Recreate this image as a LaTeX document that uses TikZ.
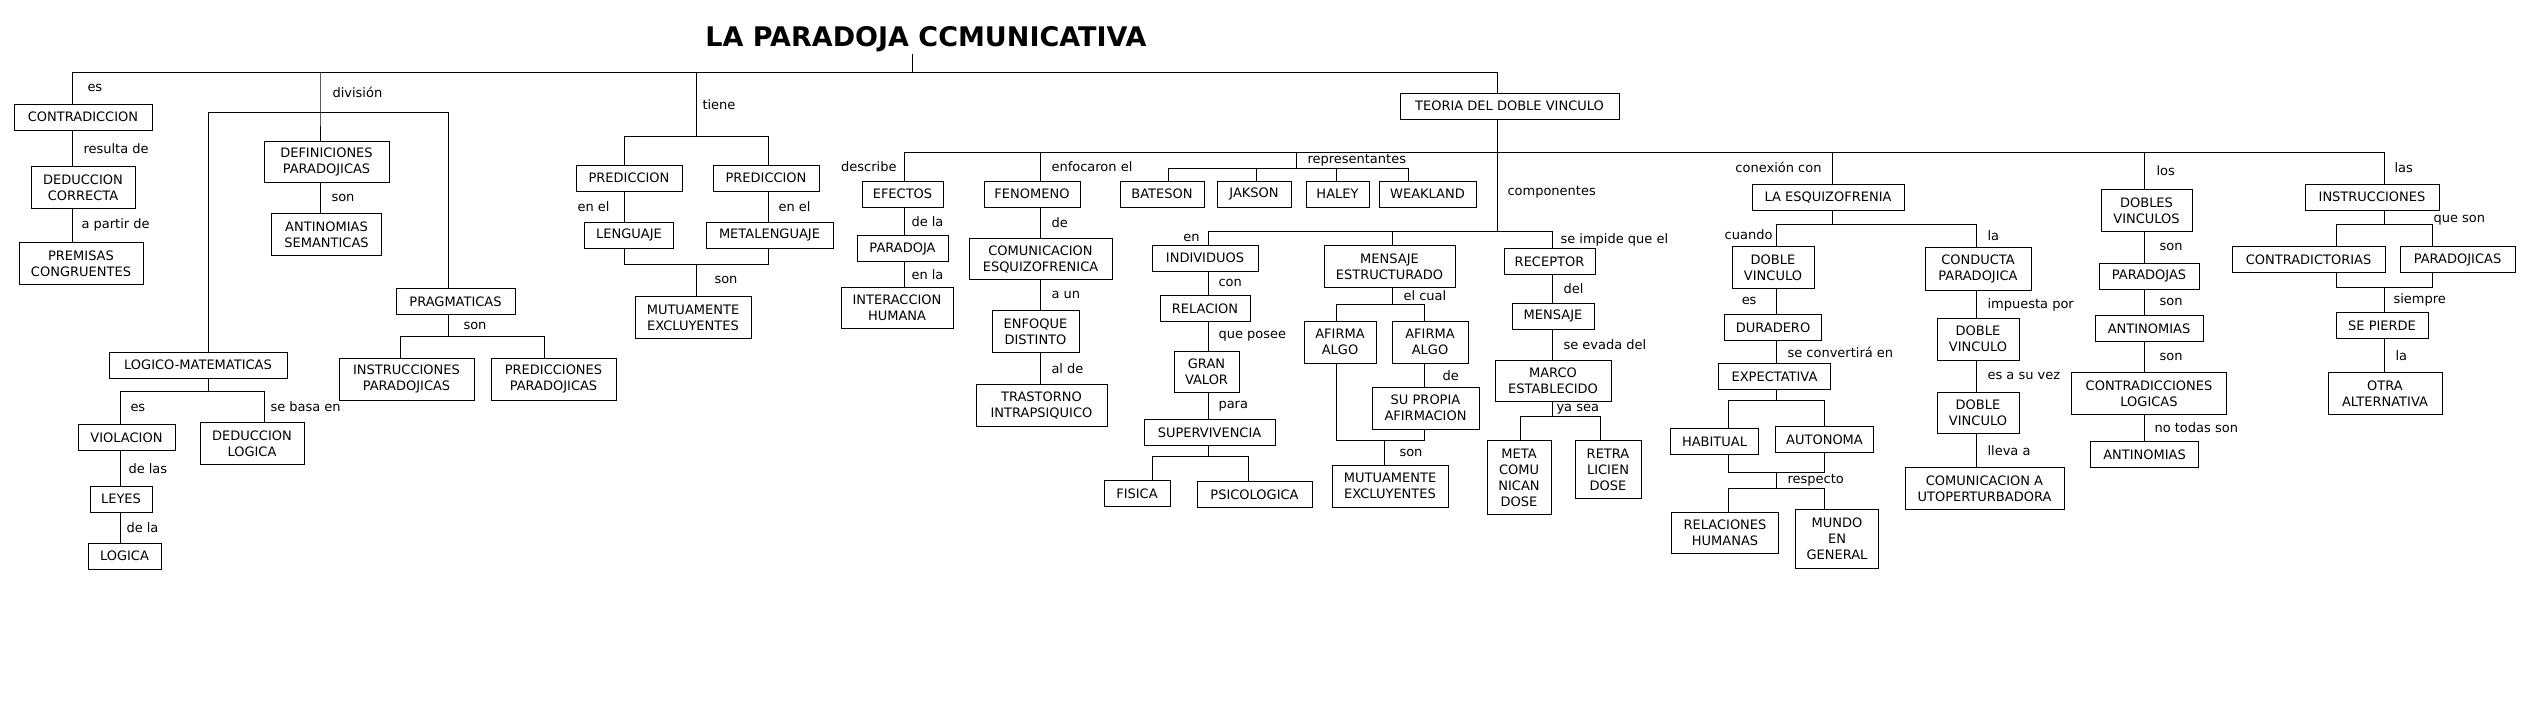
\documentclass[tikz,border=0pt]{standalone}
\usepackage{fontspec}
\setmainfont{DejaVu Sans}
\usepackage{tikz}
\usetikzlibrary{positioning}

\begin{document}
\begin{tikzpicture}[x=1pt,
            y=-1.11pt,
            line width=1pt,
            box/.style={draw, align=center, font=\fontsize{13}{16}\selectfont,
                        inner xsep=3pt, inner ysep=2pt, minimum height=26pt},
            box2/.style={box, minimum height=41.6pt},
            lbl/.style={font=\fontsize{13}{16}\selectfont, inner sep=0pt},
            titulo/.style={font=\fontsize{27}{30}\selectfont\bfseries, inner sep=1pt}]

        \useasboundingbox (0,0) rectangle (2526,647.75);

        \node[titulo, anchor=base] (title) at (926,42) {LA PARADOJA CCMUNICATIVA};

        \node[box, minimum width=138pt] (contr) at (83,105.5) {CONTRADICCION};
        \node[box2, minimum width=104pt, below=35.5pt of contr] (dedcor) {DEDUCCION\\CORRECTA};
        \node[box2, minimum width=124pt, below=33.3pt of dedcor, xshift=-2pt] (prem) {PREMISAS\\CONGRUENTES};

        \node[box2, minimum width=125pt] (defpar) at (326.5,146) {DEFINICIONES\\PARADOJICAS};
        \node[box2, minimum width=110pt, below=30pt of defpar] (antsem) {ANTINOMIAS\\SEMANTICAS};
        \node[box, minimum width=119pt] (pragm) at (455.5,271.5) {PRAGMATICAS};
        \node[box2, minimum width=135pt, below=43.3pt of pragm, xshift=-49pt] (instpar) {INSTRUCCIONES\\PARADOJICAS};
        \node[box2, minimum width=125pt, below=43.3pt of pragm, xshift=98pt] (predpar) {PREDICCIONES\\PARADOJICAS};
        \node[box, minimum width=178pt] (logmat) at (198,329) {LOGICO-MATEMATICAS};
        \node[box, minimum width=97pt, below=45.5pt of logmat, xshift=-71.5pt] (viol) {VIOLACION};
        \node[box2, minimum width=104pt, below=43.3pt of logmat, xshift=54pt] (dedlog) {DEDUCCION\\LOGICA};
        \node[box, minimum width=62pt, below=34.4pt of viol, xshift=-5.5pt] (leyes) {LEYES};
        \node[box, minimum width=73pt, below=30pt of leyes, xshift=3.5pt] (logica) {LOGICA};

        \node[box, minimum width=106pt] (predl) at (629,160.5) {PREDICCION};
        \node[box, minimum width=89pt, below=30pt of predl] (leng) {LENGUAJE};
        \node[box, minimum width=106pt, right=30pt of predl] (predr) {PREDICCION};
        \node[box, minimum width=127pt, below=30pt of predr, xshift=3.5pt] (metal) {METALENGUAJE};
        \node[box2, minimum width=116pt] (mut1) at (693,286) {MUTUAMENTE\\EXCLUYENTES};

        \node[box, minimum width=219pt] (teoria) at (1509.5,95.5) {TEORIA DEL DOBLE VINCULO};

        \node[box, minimum width=81pt] (efectos) at (902.5,175) {EFECTOS};
        \node[box, minimum width=91pt, below=27.7pt of efectos] (parad) {PARADOJA};
        \node[box2, minimum width=112pt, below=24.4pt of parad, xshift=-5.5pt] (interh) {INTERACCION\\HUMANA};

        \node[box, minimum width=96pt] (fenom) at (1032,175) {FENOMENO};
        \node[box2, minimum width=143pt, below=30pt of fenom, xshift=8.5pt] (comesq) {COMUNICACION\\ESQUIZOFRENICA};
        \node[box2, minimum width=87pt, below=30pt of comesq, xshift=-5pt] (enfdis) {ENFOQUE\\DISTINTO};
        \node[box2, minimum width=131pt, below=31pt of enfdis, xshift=6pt] (trast) {TRASTORNO\\INTRAPSIQUICO};

        \node[box, minimum width=84pt] (bateson) at (1162,175) {BATESON};
        \node[box, minimum width=74pt, right=12pt of bateson] (jakson) {JAKSON};
        \node[box, minimum width=63pt, right=14pt of jakson] (haley) {HALEY};
        \node[box, minimum width=97pt, right=9pt of haley] (weak) {WEAKLAND};

        \node[box, minimum width=106pt] (indiv) at (1205,232.5) {INDIVIDUOS};
        \node[box, minimum width=90pt, below=23.3pt of indiv] (relac) {RELACION};
        \node[box2, minimum width=65pt, below=28.9pt of relac, xshift=1.5pt] (granv) {GRAN\\VALOR};
        \node[box, minimum width=131pt, below=25.5pt of granv, xshift=3pt] (superv) {SUPERVIVENCIA};
        \node[box, minimum width=66pt, below=34.4pt of superv, xshift=-72.5pt] (fisica) {FISICA};
        \node[box, minimum width=115pt, below=35.5pt of superv, xshift=45pt] (psico) {PSICOLOGICA};

        \node[box2, minimum width=131pt] (menest) at (1389.5,240) {MENSAJE\\ESTRUCTURADO};
        \node[box2, minimum width=72pt, below=33.3pt of menest, xshift=-49.5pt] (afirl) {AFIRMA\\ALGO};
        \node[box2, minimum width=76pt, below=33.3pt of menest, xshift=40.5pt] (afirr) {AFIRMA\\ALGO};
        \node[box2, minimum width=107pt, below=23.3pt of afirr, xshift=-4.5pt] (supro) {SU PROPIA\\AFIRMACION};
        \node[box2, minimum width=116pt, below=35.5pt of supro, xshift=-35.5pt] (mut2) {MUTUAMENTE\\EXCLUYENTES};

        \node[box, minimum width=91pt] (recep) at (1549.5,235.5) {RECEPTOR};
        \node[box, minimum width=82pt, below=27.7pt of recep, xshift=3.5pt] (mensaje) {MENSAJE};
        \node[box2, minimum width=116pt, below=30pt of mensaje] (marco) {MARCO\\ESTABLECIDO};
        \node[box, minimum width=64pt, minimum height=74.5pt, below=37.7pt of marco, xshift=-34pt] (meta) {META\\COMU\\NICAN\\DOSE};
        \node[box, minimum width=66pt, minimum height=58pt, below=37.7pt of marco, xshift=55pt] (retra) {RETRA\\LICIEN\\DOSE};

        \node[box, minimum width=152pt] (esquiz) at (1828,177.5) {LA ESQUIZOFRENIA};
        \node[box2, minimum width=82pt, below=35.5pt of esquiz, xshift=-55pt] (dobv1) {DOBLE\\VINCULO};
        \node[box, minimum width=97pt, below=25.5pt of dobv1] (durad) {DURADERO};
        \node[box, minimum width=112pt, below=22.2pt of durad, xshift=1.5pt] (expect) {EXPECTATIVA};
        \node[box, minimum width=88pt, below=37.7pt of expect, xshift=-60pt] (habit) {HABITUAL};
        \node[box, minimum width=98pt, below=35.5pt of expect, xshift=50pt] (auton) {AUTONOMA};
        \node[box2, minimum width=107pt, below=56.6pt of habit, xshift=10.5pt] (relhum) {RELACIONES\\HUMANAS};
        \node[box, minimum width=83pt, minimum height=58.5pt, below=56.6pt of auton, xshift=12.5pt] (mundo) {MUNDO\\EN\\GENERAL};

        \node[box2, minimum width=106pt, minimum height=43.3pt] (conpar) at (1978,242.5) {CONDUCTA\\PARADOJICA};
        \node[box2, minimum width=82pt, below=26.6pt of conpar] (dobv2) {DOBLE\\VINCULO};
        \node[box2, minimum width=82pt, below=31pt of dobv2] (dobv3) {DOBLE\\VINCULO};
        \node[box2, minimum width=159pt, below=33.3pt of dobv3, xshift=6.5pt] (comaut) {COMUNICACION A\\UTOPERTURBADORA};

        \node[box2, minimum width=91pt] (dobles) at (2146.5,189.5) {DOBLES\\VINCULOS};
        \node[box, minimum width=100pt, below=31pt of dobles, xshift=2.5pt] (paradojas) {PARADOJAS};
        \node[box, minimum width=108pt, below=25.5pt of paradojas] (antin1) {ANTINOMIAS};
        \node[box2, minimum width=155pt, below=30pt of antin1] (contlog) {CONTRADICCIONES\\LOGICAS};
        \node[box, minimum width=108pt, below=26.6pt of contlog, xshift=-4.5pt] (antin2) {ANTINOMIAS};

        \node[box, minimum width=134pt] (instr) at (2372,177.5) {INSTRUCCIONES};
        \node[box, minimum width=153pt, below=35.5pt of instr, xshift=-63.5pt] (contrad) {CONTRADICTORIAS};
        \node[box, minimum width=115pt, below=35.5pt of instr, xshift=85.5pt] (paradj) {PARADOJICAS};
        \node[box, minimum width=92pt, below=38.8pt of contrad, xshift=73.5pt] (sepierde) {SE PIERDE};
        \node[box2, minimum width=114pt, below=33.3pt of sepierde, xshift=3pt] (otra) {OTRA\\ALTERNATIVA};

        \coordinate (r1) at (72,65);
        \coordinate (r2) at (320,65);
        \coordinate (r3) at (696,65);
        \coordinate (rt) at (912,65);
        \coordinate (r4) at (1497,65);
        \coordinate (d1) at (320,101);
        \coordinate (dl) at (208,101);
        \coordinate (dr) at (448,101);
        \coordinate (p1) at (448,303);
        \coordinate (pl) at (400,303);
        \coordinate (pr) at (544,303);
        \coordinate (m1) at (208,353);
        \coordinate (ml) at (120,353);
        \coordinate (mr) at (264,353);
        \coordinate (t1) at (696,123);
        \coordinate (tl) at (624,123);
        \coordinate (tr) at (768,123);
        \coordinate (t2) at (696,238);
        \coordinate (t2l) at (624,238);
        \coordinate (t2r) at (768,238);
        \coordinate (b0) at (1497,137);
        \coordinate (bl) at (904,137);
        \coordinate (b1) at (1040,137);
        \coordinate (b2) at (1296,137);
        \coordinate (b3) at (1832,137);
        \coordinate (b4) at (2144,137);
        \coordinate (br) at (2384,137);
        \coordinate (rp) at (1296,152);
        \coordinate (rp1) at (1168,152);
        \coordinate (rp2) at (1256,152);
        \coordinate (rp3) at (1336,152);
        \coordinate (rp4) at (1408,152);
        \coordinate (c0) at (1497,209);
        \coordinate (cl) at (1208,209);
        \coordinate (cm) at (1392,209);
        \coordinate (cr) at (1552,209);
        \coordinate (sv) at (1208,411);
        \coordinate (svl) at (1152,411);
        \coordinate (svr) at (1248,411);
        \coordinate (ec) at (1392,274);
        \coordinate (ecl) at (1336,274);
        \coordinate (ecr) at (1424,274);
        \coordinate (ml2) at (1336,397);
        \coordinate (mj) at (1384,397);
        \coordinate (mr2) at (1424,397);
        \coordinate (ys) at (1552,375);
        \coordinate (ysl) at (1520,375);
        \coordinate (ysr) at (1600,375);
        \coordinate (ej) at (1832,202);
        \coordinate (ejl) at (1776,202);
        \coordinate (ejr) at (1976,202);
        \coordinate (xj) at (1776,361);
        \coordinate (xjl) at (1728,361);
        \coordinate (xjr) at (1824,361);
        \coordinate (hl) at (1728,426);
        \coordinate (hj) at (1776,426);
        \coordinate (hr) at (1824,426);
        \coordinate (rj) at (1776,440);
        \coordinate (rjl) at (1728,440);
        \coordinate (rjr) at (1824,440);
        \coordinate (ij) at (2384,202);
        \coordinate (ijl) at (2336,202);
        \coordinate (ijr) at (2432,202);
        \coordinate (sl) at (2336,259);
        \coordinate (sj) at (2384,259);
        \coordinate (sr) at (2432,259);

        \draw (r1) -- (r4);
        \draw (title.south -| rt) -- (rt);

        \draw (r1) -- node[lbl, right=15pt] {es} (contr.north -| r1);
        \draw (contr.south -| r1) -- node[lbl, right=11pt] {resulta de} (dedcor.north -| r1);
        \draw (dedcor.south -| r1) -- node[lbl, right=9pt] {a partir de} (prem.north -| r1);

        \draw (r2) -- node[lbl, right=12pt] {división} (d1) -- (defpar.north -| d1);
        \draw (defpar.south -| d1) -- node[lbl, right=11pt] {son} (antsem.north -| d1);
        \draw (logmat.north -| dl) |- (dr) -- (pragm.north -| dr);
        \draw (pragm.south -| dr) -- node[lbl, right=15pt] {son} (p1);
        \draw (instpar.north -| pl) -- (pl) -- (pr) -- (predpar.north -| pr);
        \draw (logmat.south -| m1) -- (m1);
        \draw (viol.north -| ml) -- node[lbl, right=10pt] {es} (ml) -- (mr)
              -- node[lbl, right=6pt] {se basa en} (dedlog.north -| mr);
        \draw (viol.south -| ml) -- node[lbl, right=8pt] {de las} (leyes.north -| ml);
        \draw (leyes.south -| ml) -- node[lbl, right=6pt] {de la} (logica.north -| ml);

        \draw (r3) -- node[lbl, right=6pt] {tiene} (t1);
        \draw (predl.north -| tl) -- (tl) -- (tr) -- (predr.north -| tr);
        \draw (predl.south -| tl) -- node[lbl, left=14pt] {en el} (leng.north -| tl);
        \draw (predr.south -| tr) -- node[lbl, right=10pt] {en el} (metal.north -| tr);
        \draw (leng.south -| tl) -- (t2l) -- (t2r) -- (metal.south -| tr);
        \draw (t2) -- node[lbl, right=18pt] {son} (mut1.north -| t2);

        \draw (r4) -- (teoria.north -| r4);
        \draw (teoria.south -| r4) -- (b0) -- node[lbl, right=10pt] {componentes} (c0);
        \draw (efectos.north -| bl) -- node[lbl, left=7pt] {describe} (bl) -- (br)
              -- node[lbl, right=10pt] {las} (instr.north -| br);
        \draw (efectos.south -| bl) -- node[lbl, right=7pt] {de la} (parad.north -| bl);
        \draw (parad.south -| bl) -- node[lbl, right=7pt] {en la} (interh.north -| bl);

        \draw (b1) -- node[lbl, right=11pt] {enfocaron el} (fenom.north -| b1);
        \draw (fenom.south -| b1) -- node[lbl, right=11pt] {de} (comesq.north -| b1);
        \draw (comesq.south -| b1) -- node[lbl, right=11pt] {a un} (enfdis.north -| b1);
        \draw (enfdis.south -| b1) -- node[lbl, right=11pt] {al de} (trast.north -| b1);

        \draw (b2) -- node[lbl, right=11pt] {representantes} (rp);
        \draw (bateson.north -| rp1) -- (rp1) -- (rp4) -- (weak.north -| rp4);
        \draw (rp2) -- (jakson.north -| rp2);
        \draw (rp3) -- (haley.north -| rp3);

        \draw (indiv.north -| cl) -- node[lbl, left=8pt] {en} (cl) -- (cr)
              -- node[lbl, right=8pt] {se impide que el} (recep.north -| cr);
        \draw (indiv.south -| cl) -- node[lbl, right=10pt] {con} (relac.north -| cl);
        \draw (relac.south -| cl) -- node[lbl, right=10pt] {que posee} (granv.north -| cl);
        \draw (granv.south -| cl) -- node[lbl, right=10pt] {para} (superv.north -| cl);
        \draw (superv.south -| cl) -- (sv);
        \draw (fisica.north -| svl) -- (svl) -- (svr) -- (psico.north -| svr);

        \draw (cm) -- (menest.north -| cm);
        \draw (menest.south -| cm) -- node[lbl, right=11pt] {el cual} (ec);
        \draw (afirl.north -| ecl) -- (ecl) -- (ecr) -- (afirr.north -| ecr);
        \draw (afirr.south -| ecr) -- node[lbl, right=18pt] {de} (supro.north -| ecr);
        \draw (afirl.south -| ecl) -- (ml2) -- (mr2) -- (supro.south -| ecr);
        \draw (mj) -- node[lbl, right=15pt] {son} (mut2.north -| mj);

        \draw (recep.south -| cr) -- node[lbl, right=11pt] {del} (mensaje.north -| cr);
        \draw (mensaje.south -| cr) -- node[lbl, right=11pt] {se evada del} (marco.north -| cr);
        \draw (marco.south -| cr) -- node[lbl, right=4pt] {ya sea} (ys);
        \draw (meta.north -| ysl) -- (ysl) -- (ysr) -- (retra.north -| ysr);

        \draw (b3) -- node[lbl, left=10pt] {conexión con} (esquiz.north -| b3);
        \draw (esquiz.south -| b3) -- (ej);
        \draw (dobv1.north -| ejl) -- node[lbl, left=3pt] {cuando} (ejl) -- (ejr)
              -- node[lbl, right=11pt] {la} (conpar.north -| ejr);
        \draw (dobv1.south -| ejl) -- node[lbl, left=19pt] {es} (durad.north -| ejl);
        \draw (durad.south -| ejl) -- node[lbl, right=11pt] {se convertirá en} (expect.north -| ejl);
        \draw (expect.south -| ejl) -- (xj);
        \draw (habit.north -| xjl) -- (xjl) -- (xjr) -- (auton.north -| xjr);
        \draw (habit.south -| xjl) -- (hl) -- (hr) -- (auton.south -| xjr);
        \draw (hj) -- node[lbl, right=11pt] {respecto} (rj);
        \draw (relhum.north -| rjl) -- (rjl) -- (rjr) -- (mundo.north -| rjr);

        \draw (conpar.south -| ejr) -- node[lbl, right=11pt] {impuesta por} (dobv2.north -| ejr);
        \draw (dobv2.south -| ejr) -- node[lbl, right=11pt] {es a su vez} (dobv3.north -| ejr);
        \draw (dobv3.south -| ejr) -- node[lbl, right=11pt] {lleva a} (comaut.north -| ejr);

        \draw (b4) -- node[lbl, right=12pt] {los} (dobles.north -| b4);
        \draw (dobles.south -| b4) -- node[lbl, right=15pt] {son} (paradojas.north -| b4);
        \draw (paradojas.south -| b4) -- node[lbl, right=15pt] {son} (antin1.north -| b4);
        \draw (antin1.south -| b4) -- node[lbl, right=15pt] {son} (contlog.north -| b4);
        \draw (contlog.south -| b4) -- node[lbl, right=10pt] {no todas son} (antin2.north -| b4);

        \draw (instr.south -| br) -- (ij);
        \draw (contrad.north -| ijl) -- (ijl) -- (ijr)
              -- node[lbl, pos=0, anchor=west, xshift=1pt, yshift=4.4pt] {que son} (paradj.north -| ijr);
        \draw (contrad.south -| ijl) -- (sl) -- (sr) -- (paradj.south -| ijr);
        \draw (sj) -- node[lbl, right=9pt] {siempre} (sepierde.north -| sj);
        \draw (sepierde.south -| sj) -- node[lbl, right=11pt] {la} (otra.north -| sj);

    \end{tikzpicture}
\end{document}
